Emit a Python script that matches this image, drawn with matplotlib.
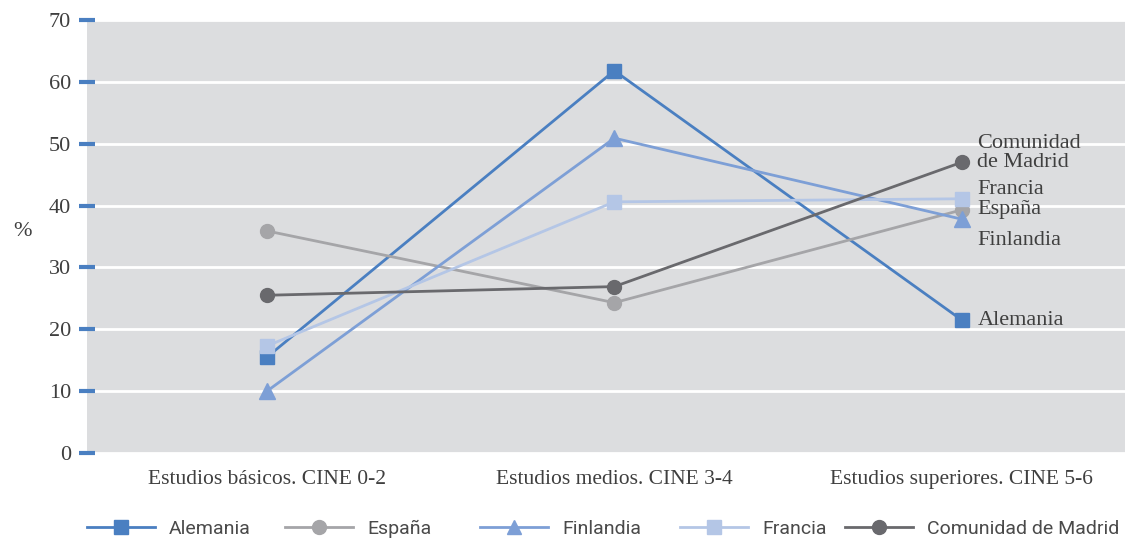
import matplotlib
matplotlib.use("Agg")
import matplotlib.pyplot as plt
from matplotlib.lines import Line2D

categories = ["Estudios básicos. CINE 0-2", "Estudios medios. CINE 3-4", "Estudios superiores. CINE 5-6"]
series_names = ["Alemania", "España", "Finlandia", "Francia", "Comunidad de Madrid"]
alemania = [15.5, 61.8, 21.5]
espana = [35.9, 24.3, 39.3]
finlandia = [10.0, 50.9, 37.8]
francia = [17.3, 40.6, 41.1]
madrid = [25.5, 26.9, 47.0]
end_labels = ["Alemania", "España", "Finlandia", "Francia", "Comunidad\nde Madrid"]
yticks = [0, 10, 20, 30, 40, 50, 60, 70]

values = [alemania, espana, finlandia, francia, madrid]
colors = ["#4a7fc1", "#a5a5a8", "#7d9fd6", "#b4c6e6", "#69696d"]
markers = ["s", "o", "^", "s", "o"]
label_offsets = [0, 0, -3.5, 1.5, 1.5]
legend_x_px = [87, 285, 480, 680, 845]

plt.rcParams['font.family'] = ['Liberation Serif', 'DejaVu Serif']
text_color = "#3f3f3f"

fig = plt.figure(figsize=(11.25, 5.4), dpi=100)
ax = fig.add_axes([87/1125, 1-453/540, 1-87/1125, (453-20)/540])
ax.set_facecolor("#dcdddf")
x = list(range(len(categories)))
for v, c, m, n in zip(values, colors, markers, series_names):
    ax.plot(x, v, color=c, marker=m, markersize=10 if m != "^" else 11, linewidth=2.0, label=n, zorder=3)

for v, lab, off in zip(values, end_labels, label_offsets):
    ax.text(2 + 0.045, v[-1] + off, lab, fontsize=16, color=text_color, va="center", ha="left",
            linespacing=1.0, zorder=4)

ax.set_xlim(-0.518, 2.47)
ax.set_ylim(0, 70)
ax.set_yticks(yticks)
ax.set_xticks(x)
ax.set_xticklabels(categories, fontsize=15.5, color=text_color)
ax.grid(axis="y", color="white", linewidth=2)
ax.set_axisbelow(True)
for s in ax.spines.values():
    s.set_visible(False)
ax.tick_params(axis="y", direction="inout", length=11, width=3, color="#4a7fc1",
               labelsize=16, labelcolor=text_color, pad=6)
ax.tick_params(axis="x", length=0, pad=12)
ax.set_ylabel("%", rotation=0, fontsize=16, color=text_color)
ax.yaxis.set_label_coords(-0.062, 0.49)

fs = 14
fs_px = fs * 100 / 72
for c, m, n, xp in zip(colors, markers, series_names, legend_x_px):
    h = Line2D([0], [0], color=c, marker=m, markersize=10, linewidth=2.0)
    lg = fig.legend([h], [n], loc="center left", bbox_to_anchor=(xp/1125, 1-529/540),
                    frameon=False, prop={'family': 'Roboto', 'size': fs},
                    handlelength=68/fs_px, handletextpad=14/fs_px, borderpad=0, borderaxespad=0)
    for t in lg.get_texts():
        t.set_color("#4a4a4a")

fig.savefig("out.png", dpi=100)
